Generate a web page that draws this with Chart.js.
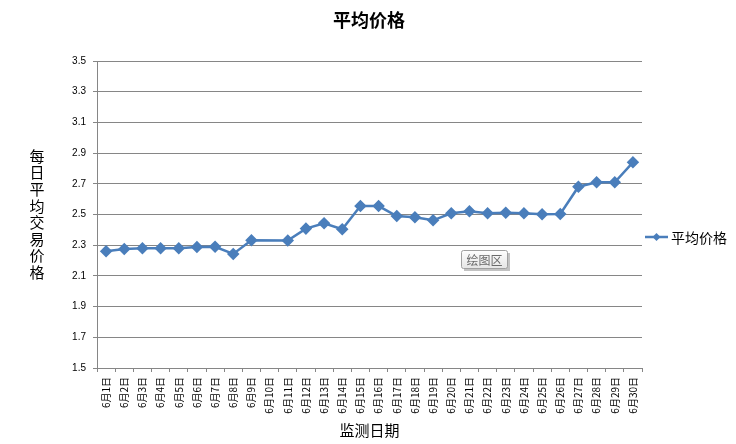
<!DOCTYPE html>
<html>
<head>
<meta charset="utf-8">
<script src="https://cdn.jsdelivr.net/npm/chart.js@4.4.0/dist/chart.umd.min.js"></script>
<style>
  html, body { margin: 0; padding: 0; background: #fff; }
</style>
</head>
<body>
<canvas id="myChart" width="736" height="444"></canvas>
<script>
const days = [
  "6月1日", "6月2日", "6月3日", "6月4日", "6月5日", "6月6日", "6月7日", "6月8日", "6月9日", "6月10日",
  "6月11日", "6月12日", "6月13日", "6月14日", "6月15日", "6月16日", "6月17日", "6月18日", "6月19日", "6月20日",
  "6月21日", "6月22日", "6月23日", "6月24日", "6月25日", "6月26日", "6月27日", "6月28日", "6月29日", "6月30日"
];
const avgPrice = [
  2.26, 2.275, 2.28, 2.28, 2.28, 2.288, 2.29, 2.243, 2.332, null,
  2.33, 2.408, 2.443, 2.404, 2.555, 2.555, 2.49, 2.482, 2.462, 2.508,
  2.521, 2.508, 2.512, 2.508, 2.501, 2.503, 2.681, 2.71, 2.71, 2.84
];
const seriesName = "平均价格";
const chartTitle = "平均价格";
const yTitle = ["每", "日", "平", "均", "交", "易", "价", "格"];
const xTitle = "监测日期";
const hoverTip = "绘图区";

const cjk = "'Noto Sans CJK SC', 'Noto Sans', sans-serif";
const blue = "#4a7ebb";
const gray = "#868686";

const extras = {
  id: "extras",
  afterDraw(chart) {
    const c = chart.ctx;
    const area = chart.chartArea;
    c.save();

    // title, centred on the whole canvas like the original
    c.fillStyle = "#000";
    c.font = "bold 18px " + cjk;
    c.textAlign = "center";
    c.textBaseline = "middle";
    c.fillText(chartTitle, chart.width / 2 + 1, 20);

    // stacked y axis title
    c.font = "15px " + cjk;
    yTitle.forEach((ch, n) => {
      c.fillText(ch, 37, 156 + n * 16.6);
    });

    // legend
    const ly = 237;
    const lx = area.right + 3;
    c.strokeStyle = blue;
    c.lineWidth = 2.5;
    c.beginPath();
    c.moveTo(lx, ly);
    c.lineTo(lx + 23, ly);
    c.stroke();
    c.fillStyle = blue;
    c.beginPath();
    c.moveTo(lx + 11.5, ly - 4);
    c.lineTo(lx + 15.5, ly);
    c.lineTo(lx + 11.5, ly + 4);
    c.lineTo(lx + 7.5, ly);
    c.closePath();
    c.fill();
    c.fillStyle = "#000";
    c.font = "14px " + cjk;
    c.textAlign = "left";
    c.fillText(seriesName, lx + 26, ly + 1);

    // hover label box
    const bx = 461, by = 250, bw = 46, bh = 18;
    c.fillStyle = "rgba(120,120,120,0.45)";
    c.fillRect(bx + 3, by + 3, bw, bh);
    const g = c.createLinearGradient(0, by, 0, by + bh);
    g.addColorStop(0, "#ffffff");
    g.addColorStop(1, "#e6e6e6");
    c.fillStyle = g;
    c.strokeStyle = "#a0a0a0";
    c.lineWidth = 1;
    c.beginPath();
    c.roundRect(bx + 0.5, by + 0.5, bw, bh, 2);
    c.fill();
    c.stroke();
    c.fillStyle = "#6a6a6a";
    c.font = "12px " + cjk;
    c.textAlign = "center";
    c.fillText(hoverTip, bx + bw / 2 + 0.5, by + bh / 2 + 1);

    c.restore();
  }
};

const ctx = document.getElementById("myChart");

const chart = new Chart(ctx, {
  type: "line",
  data: {
    labels: days,
    datasets: [
      {
        label: seriesName,
        data: avgPrice,
        borderColor: blue,
        backgroundColor: blue,
        borderWidth: 2.5,
        pointStyle: "rectRot",
        pointRadius: 4.5,
        pointHoverRadius: 4.5,
        spanGaps: true,
        tension: 0,
      },
    ],
  },
  options: {
    responsive: false,
    animation: false,
    devicePixelRatio: 1,
    layout: { padding: { left: 0, right: 94, top: 61, bottom: 0 } },
    plugins: {
      legend: { display: false },
      tooltip: { enabled: false },
    },
    scales: {
      x: {
        offset: true,
        grid: {
          offset: true,
          drawOnChartArea: false,
          drawTicks: true,
          tickLength: 4,
          color: gray,
        },
        border: { color: gray },
        ticks: {
          autoSkip: false,
          maxRotation: 90,
          minRotation: 90,
          padding: 5,
          color: "#000",
          font: { family: cjk, size: 10 },
        },
        title: {
          display: true,
          text: xTitle,
          color: "#000",
          font: { family: cjk, size: 15 },
          padding: { top: 0, bottom: 5 },
        },
        afterFit(scale) {
          scale.height = 76;
        },
      },
      y: {
        min: 1.5,
        max: 3.5,
        ticks: {
          stepSize: 0.2,
          padding: 7,
          color: "#000",
          font: { family: "'Liberation Sans', Arial, sans-serif", size: 10 },
          callback: (v) => v.toFixed(1),
        },
        grid: { color: gray, tickLength: 4 },
        border: { color: gray },
        afterFit(scale) {
          scale.width = 97;
        },
      },
    },
  },
  plugins: [extras],
});
</script>
</body>
</html>
